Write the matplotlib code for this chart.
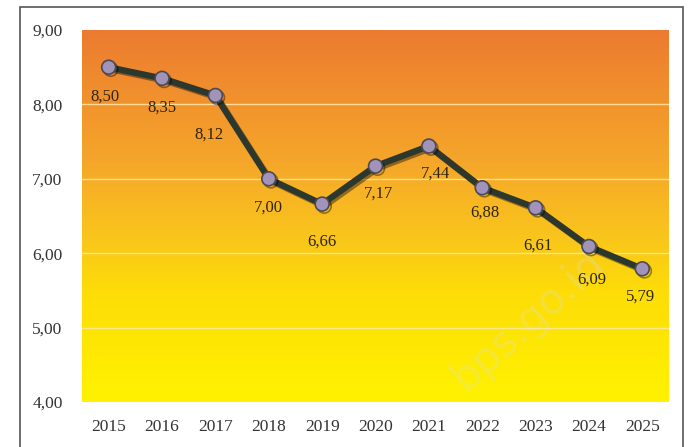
import numpy as np
import matplotlib
matplotlib.use("Agg")
import matplotlib.pyplot as plt
from matplotlib.patches import Rectangle
import matplotlib.patheffects as pe
from matplotlib.colors import LinearSegmentedColormap

years = ["2015", "2016", "2017", "2018", "2019", "2020", "2021", "2022", "2023", "2024", "2025"]
values = [8.50, 8.35, 8.12, 7.00, 6.66, 7.17, 7.44, 6.88, 6.61, 6.09, 5.79]
yticks = [4, 5, 6, 7, 8, 9]

# label offsets in points (style only)
label_dx = [-3, 0, -5, 0, 0, 2, 5, 2, 2, 2, -1]
label_dy = [-21, -21, -28, -21, -27, -20, -20, -18, -27, -24, -20]

plt.rcParams['font.family'] = ['Liberation Serif', 'DejaVu Serif']

fig = plt.figure(figsize=(6.88, 4.47), dpi=100)
ax = fig.add_axes([82/688, 45/447, 587/688, 372/447])

# frame around the figure
fig.patches.append(Rectangle((20/688, -0.05), 663/688, 440/447 + 0.05,
                             transform=fig.transFigure, fill=False,
                             edgecolor="#555555", linewidth=1.2))

x = np.arange(len(years))
ax.set_xlim(-0.5, len(years) - 0.5)
ax.set_ylim(4, 9)

cmap = LinearSegmentedColormap.from_list(
    "grad",
    [(0.0, "#FFF200"), (0.3, "#FDDC08"), (0.45, "#F9C41C"), (0.65, "#F5A62A"), (1.0, "#EC7B30")])
grad = np.linspace(0, 1, 256).reshape(-1, 1)
ax.imshow(grad, extent=[0, 1, 0, 1], transform=ax.transAxes, origin="lower",
          cmap=cmap, aspect="auto", zorder=0)

for yv in [5, 6, 7, 8]:
    ax.axhline(yv, color="#FFEBB0", linewidth=1.0, alpha=0.8, zorder=1)

ax.plot(x, values, color="#2C372E", linewidth=4.5, zorder=3,
        marker="o", markersize=10, markerfacecolor="#A293B8",
        markeredgecolor="#4A4A58", markeredgewidth=1.2,
        path_effects=[pe.SimpleLineShadow(offset=(1.5, -1.5), alpha=0.4), pe.Normal()])

for i, v in enumerate(values):
    ax.annotate(f"{v:.2f}".replace(".", ","), (x[i], v), xytext=(label_dx[i], label_dy[i]),
                textcoords="offset points", ha="center", va="center",
                fontsize=12, color="#2E2412", zorder=4)

ax.set_xticks(x)
ax.set_xticklabels(years)
ax.set_yticks(yticks)
ax.set_yticklabels([f"{t:.2f}".replace(".", ",") for t in yticks])
ax.tick_params(axis="both", length=0, labelsize=12.5, labelcolor="#333333")
ax.tick_params(axis="x", pad=12)
ax.tick_params(axis="y", pad=14)
for s in ax.spines.values():
    s.set_visible(False)

ax.text(0.76, 0.22, "bps.go.id", transform=ax.transAxes, rotation=42,
        fontsize=30, color="#D8E2F2", alpha=0.22, ha="center", va="center",
        family="DejaVu Sans", zorder=2)

fig.savefig("out.png", dpi=100)
